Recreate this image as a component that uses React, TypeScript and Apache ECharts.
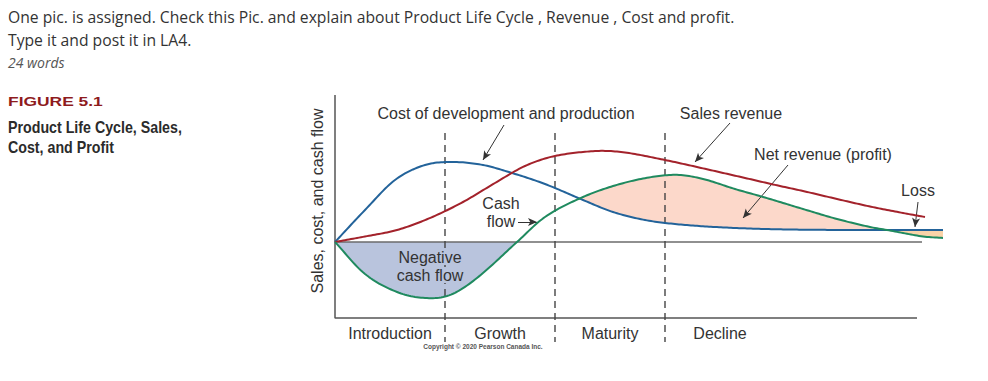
import { useEffect, useRef } from "react";
import * as echarts from "echarts";

// Time runs left to right (arbitrary units); values in arbitrary units, 0 = break-even line
const costX = [0, 30, 60, 90, 118, 148, 177, 210, 248, 278, 310, 340, 380, 430, 480, 552, 608];
const costValues = [0, 32, 62, 77, 80, 77, 69, 58, 42, 30, 22, 18, 15, 13, 12.2, 12, 12];

const cashFlowX = [0, 30, 62, 90, 115, 142, 182, 210, 248, 285, 320, 345, 370, 400, 430, 468, 502, 535, 552, 568, 588, 608];
const cashFlowValues = [0, -32, -50, -56, -53, -36, 0, 25, 45, 58, 65.5, 67, 62.5, 53, 44.5, 33, 23, 15, 12, 9, 5.5, 4];

const salesX = [0, 30, 62, 95, 128, 160, 190, 220, 262, 290, 330, 362, 408, 445, 468, 502, 535, 568, 590];
const salesValues = [0, 5.5, 12, 24, 40, 59, 76, 86, 91, 89.5, 82, 75, 64.5, 56, 51, 43, 35.5, 29, 25];

const phases = ["Introduction", "Growth", "Maturity", "Decline"];
const phaseBoundaries = [110, 220, 330];

const Y_MIN = -100;
const Y_MAX = 147;
const AXIS_BOTTOM = -76;
const X_MAX = 608;

const BLUE = "#23639a";
const RED = "#a3222b";
const GREEN = "#1f8a5f";

// smooth cubic Hermite curve through the data points (y as a function of x)
function makeSpline(xs: number[], ys: number[]) {
  const n = xs.length;
  const m = ys.map((_, i) => {
    if (i === 0) return (ys[1] - ys[0]) / (xs[1] - xs[0]);
    if (i === n - 1) return (ys[n - 1] - ys[n - 2]) / (xs[n - 1] - xs[n - 2]);
    return (ys[i + 1] - ys[i - 1]) / (xs[i + 1] - xs[i - 1]);
  });
  return (x: number) => {
    let i = 0;
    while (i < n - 2 && x > xs[i + 1]) i++;
    const h = xs[i + 1] - xs[i];
    const t = (x - xs[i]) / h;
    const t2 = t * t;
    const t3 = t2 * t;
    return (
      (2 * t3 - 3 * t2 + 1) * ys[i] +
      (t3 - 2 * t2 + t) * h * m[i] +
      (-2 * t3 + 3 * t2) * ys[i + 1] +
      (t3 - t2) * h * m[i + 1]
    );
  };
}

export default function App() {
  const ref = useRef<HTMLDivElement>(null);

  useEffect(() => {
    if (!ref.current) return;
    const chart = echarts.init(ref.current, undefined, { renderer: "svg" });

    const cost = makeSpline(costX, costValues);
    const cash = makeSpline(cashFlowX, cashFlowValues);
    const sales = makeSpline(salesX, salesValues);

    const sample = (f: (x: number) => number, x0: number, x1: number, step = 1) => {
      const out: number[][] = [];
      for (let x = x0; x < x1; x += step) out.push([x, f(x)]);
      out.push([x1, f(x1)]);
      return out;
    };

    // polygons where top(x) > bottom(x), over [x0, x1]
    const regions = (top: (x: number) => number, bottom: (x: number) => number, x0: number, x1: number) => {
      const polys: number[][][] = [];
      let run: number[] = [];
      const flush = () => {
        if (run.length > 1) {
          const poly = run.map((x) => [x, top(x)]).concat(run.slice().reverse().map((x) => [x, bottom(x)]));
          polys.push(poly);
        }
        run = [];
      };
      for (let x = x0; x <= x1 + 1e-9; x += 0.5) {
        if (top(x) > bottom(x) + 1e-6) run.push(x);
        else flush();
      }
      flush();
      return polys;
    };

    const zero = () => 0;
    const fillDefs = [
      { polys: regions(zero, cash, 0, X_MAX), color: "#b9c4dd" }, // negative cash flow
      { polys: regions(cash, cost, 0, X_MAX), color: "#fcd8ca" }, // net revenue (profit)
      { polys: regions(cost, cash, phaseBoundaries[2], X_MAX), color: "#f9d3a8" }, // loss
    ];

    const curveDefs = [
      { pts: sample(cost, 0, costX[costX.length - 1], 2), color: BLUE },
      { pts: sample(sales, 0, salesX[salesX.length - 1], 2), color: RED },
      { pts: sample(cash, 0, cashFlowX[cashFlowX.length - 1], 2), color: GREEN },
    ];

    const series: any[] = [
      {
        type: "custom", name: "Areas", silent: true, z: 1,
        coordinateSystem: "cartesian2d",
        data: [[0, 0]],
        renderItem: (_p: any, api: any) => ({
          type: "group",
          children: fillDefs.flatMap((d) =>
            d.polys.map((poly) => ({
              type: "polygon",
              shape: { points: poly.map((p) => api.coord(p)) },
              style: { fill: d.color, stroke: null },
            }))
          ),
        }),
      },
      // baseline + annotation arrows
      {
        type: "line", symbol: "none", silent: true, z: 6,
        data: [[0, 0], [587, 0]],
        lineStyle: { color: "#6b6b6b", width: 1.3 },
        markLine: {
          silent: true,
          symbol: ["none", "arrow"],
          symbolSize: [6, 9],
          label: { show: false },
          lineStyle: { color: "#333", width: 1, type: "solid" },
          data: [
            [{ coord: [169, 117] }, { coord: [148, 82] }],
            [{ coord: [395, 119] }, { coord: [360, 80] }],
            [{ coord: [453, 77] }, { coord: [408, 24] }],
            [{ coord: [583, 40] }, { coord: [580, 15] }],
            [{ coord: [183, 20] }, { coord: [202, 20] }],
          ],
        },
      },
      // axes
      {
        type: "line", symbol: "none", silent: true, z: 6,
        data: [[0, Y_MAX], [0, AXIS_BOTTOM], [582, AXIS_BOTTOM]],
        lineStyle: { color: "#555", width: 1.5 },
      },
      // phase boundaries
      ...phaseBoundaries.map((b) => ({
        type: "line", symbol: "none", silent: true, z: 6,
        data: [[b, 109], [b, Y_MIN]],
        lineStyle: { color: "#444", width: 1.4, type: [7, 5] },
      })),
      // curves: cost, sales revenue, cash flow
      {
        type: "custom", name: "Curves", silent: true, z: 8,
        coordinateSystem: "cartesian2d",
        data: [[0, 0]],
        renderItem: (_p: any, api: any) => ({
          type: "group",
          children: curveDefs.map((c) => ({
            type: "polyline",
            shape: { points: c.pts.map((p) => api.coord(p)) },
            style: { stroke: c.color, lineWidth: 2, fill: null, lineJoin: "round" },
          })),
        }),
      },
    ];

    const phaseCenters = [390, 500, 610, 720];
    const fontChart = "'Liberation Sans', Arial, sans-serif";
    const fontPage = "'Open Sans', sans-serif";

    const txt = (text: string, x: number, y: number, font: string, fill = "#333", align = "center", extra: any = {}, styleExtra: any = {}) => ({
      type: "text", x, y, silent: true, z: 10, ...extra,
      style: { text, font, fill, textAlign: align, textVerticalAlign: "middle", ...styleExtra },
    });

    const graphic: any[] = [
      txt("One pic. is assigned. Check this Pic. and explain about Product Life Cycle , Revenue , Cost and profit.", 8, 17, `15.7px ${fontPage}`, "#333", "left"),
      txt("Type it and post it in LA4.", 8, 40, `15.7px ${fontPage}`, "#333", "left"),
      txt("24 words", 8, 62, `italic 14px ${fontPage}`, "#555", "left"),
      txt("FIGURE 5.1", 8, 101, `bold 13px ${fontChart}`, "#8e1b1d", "left", { scaleX: 1.34 }),
      txt("Product Life Cycle, Sales,", 8, 127, `bold 16px ${fontChart}`, "#2b2b2b", "left", { scaleX: 0.89 }),
      txt("Cost, and Profit", 8, 147, `bold 16px ${fontChart}`, "#2b2b2b", "left", { scaleX: 0.89 }),
      txt("Sales, cost, and cash flow", 317, 201, `16px ${fontChart}`, "#333", "center", { rotation: Math.PI / 2 }),
      txt("Cost of development and production", 506, 113, `16px ${fontChart}`),
      txt("Sales revenue", 731, 113, `16px ${fontChart}`),
      txt("Net revenue (profit)", 823, 154, `16px ${fontChart}`),
      txt("Loss", 918, 190, `16px ${fontChart}`),
      txt("Cash", 501, 203, `16px ${fontChart}`),
      txt("flow", 501, 221, `16px ${fontChart}`),
      txt("Negative", 430, 257, `16px ${fontChart}`, "#333", "center", {}, { backgroundColor: "#b9c4dd", padding: [0, 1] }),
      txt("cash flow", 430, 275, `16px ${fontChart}`, "#333", "center", {}, { backgroundColor: "#b9c4dd", padding: [0, 1] }),
      ...phases.map((p, i) => txt(p, phaseCenters[i], 333, `16px ${fontChart}`)),
      txt("Copyright © 2020 Pearson Canada Inc.", 483, 346, `bold 6.5px ${fontChart}`, "#555"),
    ];

    chart.setOption({
      animation: false,
      backgroundColor: "#ffffff",
      grid: { left: 335, right: 988 - 335 - X_MAX, top: 95, bottom: 39, containLabel: false },
      xAxis: { type: "value", min: 0, max: X_MAX, show: false },
      yAxis: { type: "value", min: Y_MIN, max: Y_MAX, show: false },
      series,
      graphic,
    });

    return () => chart.dispose();
  }, []);

  return (
    <div
      ref={ref}
      style={{ position: "absolute", left: 0, top: 0, width: 988, height: 381 }}
    />
  );
}
